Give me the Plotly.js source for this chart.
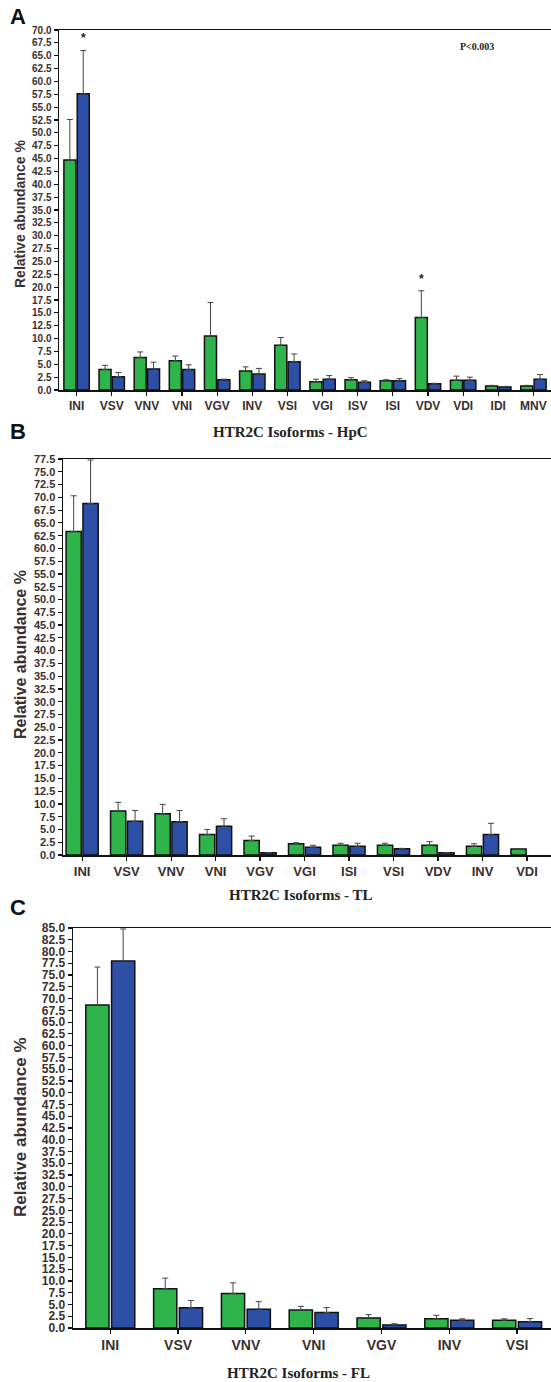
<!DOCTYPE html>
<html>
<head>
<meta charset="utf-8">
<script src="https://cdn.plot.ly/plotly-3.0.1.min.js"></script>
<style>
html,body{margin:0;padding:0;background:#fff;}
#chart{width:551px;height:1382px;}
</style>
</head>
<body>
<div id="chart"></div>
<script>
// ---- Panel A : HpC ----
const catsA = ["INI","VSV","VNV","VNI","VGV","INV","VSI","VGI","ISV","ISI","VDV","VDI","IDI","MNV"];
const greenA = [44.7, 4.0, 6.3, 5.7, 10.5, 3.7, 8.7, 1.6, 2.0, 1.8, 14.1, 1.9, 0.8, 0.8];
const greenErrA = [7.9, 0.8, 1.1, 0.9, 6.5, 0.8, 1.5, 0.5, 0.4, 0.2, 5.2, 0.8, 0.1, 0.1];
const blueA = [57.6, 2.6, 4.1, 4.0, 2.0, 3.1, 5.5, 2.1, 1.5, 1.8, 1.2, 1.9, 0.6, 2.1];
const blueErrA = [8.4, 0.8, 1.3, 0.9, 0.1, 1.1, 1.5, 0.7, 0.3, 0.4, 0.1, 0.6, 0.1, 0.9];

// ---- Panel B : TL ----
const catsB = ["INI","VSV","VNV","VNI","VGV","VGI","ISI","VSI","VDV","INV","VDI"];
const greenB = [63.3, 8.6, 8.05, 4.0, 2.85, 2.2, 1.9, 1.9, 1.9, 1.7, 1.15];
const greenErrB = [7.0, 1.7, 1.85, 1.0, 0.85, 0.2, 0.4, 0.4, 0.7, 0.5, 0.1];
const blueB = [68.8, 6.6, 6.5, 5.65, 0.45, 1.5, 1.7, 1.2, 0.45, 4.0, null];
const blueErrB = [8.5, 2.1, 2.2, 1.45, 0.05, 0.4, 0.6, 0.1, 0.05, 2.2, 0];

// ---- Panel C : FL ----
const catsC = ["INI","VSV","VNV","VNI","VGV","INV","VSI"];
const greenC = [68.65, 8.35, 7.35, 3.8, 2.15, 1.95, 1.65];
const greenErrC = [8.05, 2.25, 2.25, 0.8, 0.7, 0.75, 0.3];
const blueC = [78.0, 4.3, 4.0, 3.3, 0.65, 1.65, 1.35];
const blueErrC = [6.8, 1.55, 1.6, 1.05, 0.25, 0.3, 0.65];

const yMaxA = 70, yMaxB = 77.5, yMaxC = 85;

const GREEN = "#2fb44b", BLUE = "#2e4fa6";
const W = 551, H = 1382;
const SANS = "Liberation Sans, Arial, sans-serif";
const SERIF = "Liberation Serif, Times New Roman, serif";
const TXT = "#3b2f2f";

function barTrace(cats, vals, errs, color, xa, ya) {
  return {
    type: "bar", x: cats, y: vals, xaxis: xa, yaxis: ya,
    marker: {color: color, line: {color: "#111", width: 1.5}},
    error_y: {type: "data", array: errs, arrayminus: errs.map(() => 0), symmetric: false,
              color: "#444", thickness: 1, width: 3},
    showlegend: false, hoverinfo: "skip"
  };
}

const data = [
  barTrace(catsA, greenA, greenErrA, GREEN, "x", "y"),
  barTrace(catsA, blueA, blueErrA, BLUE, "x", "y"),
  barTrace(catsB, greenB, greenErrB, GREEN, "x2", "y2"),
  barTrace(catsB, blueB, blueErrB, BLUE, "x2", "y2"),
  barTrace(catsC, greenC, greenErrC, GREEN, "x3", "y3"),
  barTrace(catsC, blueC, blueErrC, BLUE, "x3", "y3")
];

function xax(dom, rng, anchor, fs) {
  return {domain: dom, range: rng, anchor: anchor, type: "category",
          showline: true, linecolor: "#111", linewidth: 1.5, mirror: true,
          ticks: "outside", ticklen: 4, tickwidth: 1.2, tickcolor: "#111",
          tickfont: {family: SANS, size: fs, color: TXT, weight: "bold"},
          showgrid: false, zeroline: false, fixedrange: true};
}
function yax(dom, max, anchor, fs) {
  return {domain: dom, range: [0, max], anchor: anchor, dtick: 2.5, tick0: 0,
          tickformat: ".1f", showline: true, linecolor: "#111", linewidth: 1.5,
          ticks: "outside", ticklen: 4, tickwidth: 1.2, tickcolor: "#111",
          tickfont: {family: SANS, size: fs, color: TXT, weight: "bold"},
          showgrid: false, zeroline: false, fixedrange: true};
}
const py = p => 1 - p / H;
const px = p => p / W;

function label(t, x, y) {
  return {text: t, xref: "paper", yref: "paper", x: px(x), y: py(y), xanchor: "left", yanchor: "middle",
          showarrow: false, font: {family: SANS, size: 22, color: "#111", weight: "bold"}};
}
function ytitle(y, fs) {
  return {text: "Relative abundance %", xref: "paper", yref: "paper", x: px(20), y: py(y), textangle: -90,
          xanchor: "center", yanchor: "middle",
          showarrow: false, font: {family: SANS, size: fs, color: TXT, weight: "bold"}};
}
function xtitle(t, x, y) {
  return {text: t, xref: "paper", yref: "paper", x: px(x), y: py(y), xanchor: "center", yanchor: "middle",
          showarrow: false, font: {family: SERIF, size: 15, color: "#222", weight: "bold"}};
}

const layout = {
  width: W, height: H,
  margin: {l: 0, r: 0, t: 0, b: 0},
  paper_bgcolor: "#ffffff", plot_bgcolor: "#ffffff",
  barmode: "group", bargap: 0.24, bargroupgap: 0.1,
  xaxis: xax([px(59), 1], [-0.5, 13.5], "y", 12),
  yaxis: yax([py(390), py(30)], yMaxA, "x", 10),
  xaxis2: xax([px(63), 1], [-0.43, 10.54], "y2", 13),
  yaxis2: yax([py(855), py(459)], yMaxB, "x2", 11),
  xaxis3: xax([px(73), 1], [-0.55, 6.5], "y3", 14),
  yaxis3: yax([py(1328), py(928)], yMaxC, "x3", 12),
  annotations: [
    label("A", 8, 16), label("B", 8, 431), label("C", 8, 907),
    ytitle(214, 14), ytitle(655, 16), ytitle(1127, 17),
    xtitle("HTR2C Isoforms - HpC", 290, 432),
    xtitle("HTR2C Isoforms - TL", 300, 895),
    xtitle("HTR2C Isoforms - FL", 298, 1373),
    {text: "P<0.003", xref: "x", yref: "y", x: 11.4, y: 66.8, showarrow: false,
     font: {family: SERIF, size: 10, color: "#222", weight: "bold"}},
    {text: "*", xref: "x", yref: "y", x: 0.19, y: 66.6, yanchor: "bottom", showarrow: false,
     font: {family: SANS, size: 12, color: "#222", weight: "bold"}},
    {text: "*", xref: "x", yref: "y", x: 9.81, y: 19.8, yanchor: "bottom", showarrow: false,
     font: {family: SANS, size: 12, color: "#222", weight: "bold"}}
  ]
};

Plotly.newPlot("chart", data, layout, {displayModeBar: false, staticPlot: true});
</script>
</body>
</html>
